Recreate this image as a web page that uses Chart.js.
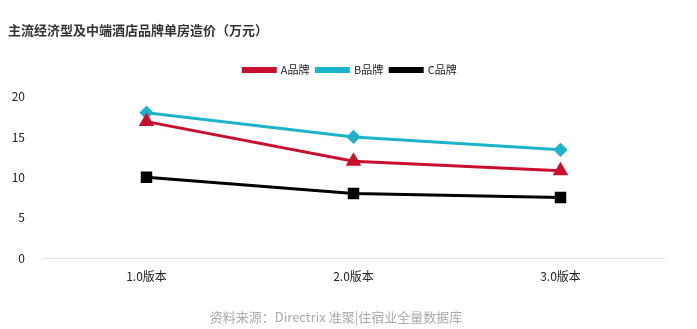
<!DOCTYPE html>
<html>
<head>
<meta charset="utf-8">
<script src="https://cdn.jsdelivr.net/npm/chart.js@4"></script>
<style>
  html, body { margin: 0; padding: 0; background: #fff; }
  .wrap { width: 697px; height: 329px; position: relative; }
</style>
</head>
<body>
<div class="wrap"><canvas id="myChart" width="697" height="329"></canvas></div>
<script>
const categories = ["1.0版本", "2.0版本", "3.0版本"];
const seriesA = [16.9, 12.0, 10.8];
const seriesB = [18.0, 15.0, 13.4];
const seriesC = [10.0, 8.0, 7.5];
const yTicks = [0, 5, 10, 15, 20];

Chart.defaults.font.family = "'Noto Sans CJK SC', 'Noto Sans', sans-serif";
Chart.defaults.color = "#333";

// more room under the legend, and keep it centred on the whole canvas
const legendTweak = {
  id: "legendTweak",
  beforeInit(chart) {
    const fit = chart.legend.fit;
    chart.legend.fit = function () {
      fit.bind(chart.legend)();
      this.height += 11;
    };
  },
  afterLayout(chart) {
    chart.legend.left += 14;
    chart.legend.right += 14;
  },
};

const ctx = document.getElementById("myChart").getContext("2d");
new Chart(ctx, {
  type: "line",
  data: {
    labels: categories,
    datasets: [
      {
        label: "A品牌",
        data: seriesA,
        borderColor: "#C8102E",
        backgroundColor: "#C8102E",
        borderWidth: 3,
        pointStyle: "triangle",
        pointRadius: 6,
        tension: 0,
      },
      {
        label: "B品牌",
        data: seriesB,
        borderColor: "#1DB3C9",
        backgroundColor: "#1DB3C9",
        borderWidth: 3,
        pointStyle: "rectRot",
        pointRadius: 5,
        tension: 0,
      },
      {
        label: "C品牌",
        data: seriesC,
        borderColor: "#000",
        backgroundColor: "#000",
        borderWidth: 3,
        pointStyle: "rect",
        pointRadius: 6,
        tension: 0,
      },
    ],
  },
  plugins: [legendTweak],
  options: {
    responsive: false,
    animation: false,
    layout: { padding: { left: 8, right: 33, top: 8, bottom: 4 } },
    plugins: {
      title: {
        display: true,
        text: "主流经济型及中端酒店品牌单房造价（万元）",
        align: "start",
        color: "#333",
        font: { size: 13, weight: "bold" },
        padding: { top: 14, bottom: 20 },
      },
      subtitle: {
        display: true,
        position: "bottom",
        text: "资料来源：Directrix 准聚|住宿业全量数据库",
        color: "#aaa",
        font: { size: 13 },
        padding: { top: 23, bottom: 0 },
      },
      legend: {
        labels: {
          boxWidth: 32,
          boxHeight: 3,
          padding: 7,
          color: "#222",
          font: { size: 11 },
        },
      },
      tooltip: { enabled: false },
    },
    scales: {
      x: {
        offset: true,
        grid: { display: false },
        border: { color: "#e3e3e3", width: 1 },
        ticks: { color: "#222", font: { size: 12 }, padding: 3 },
      },
      y: {
        min: 0,
        max: 20,
        afterBuildTicks: (axis) => {
          axis.ticks = yTicks.map((v) => ({ value: v }));
        },
        afterFit: (axis) => {
          axis.width = 35;
        },
        grid: { display: false },
        border: { display: false },
        ticks: { color: "#222", font: { size: 12 }, padding: 10 },
      },
    },
  },
});
</script>
</body>
</html>
